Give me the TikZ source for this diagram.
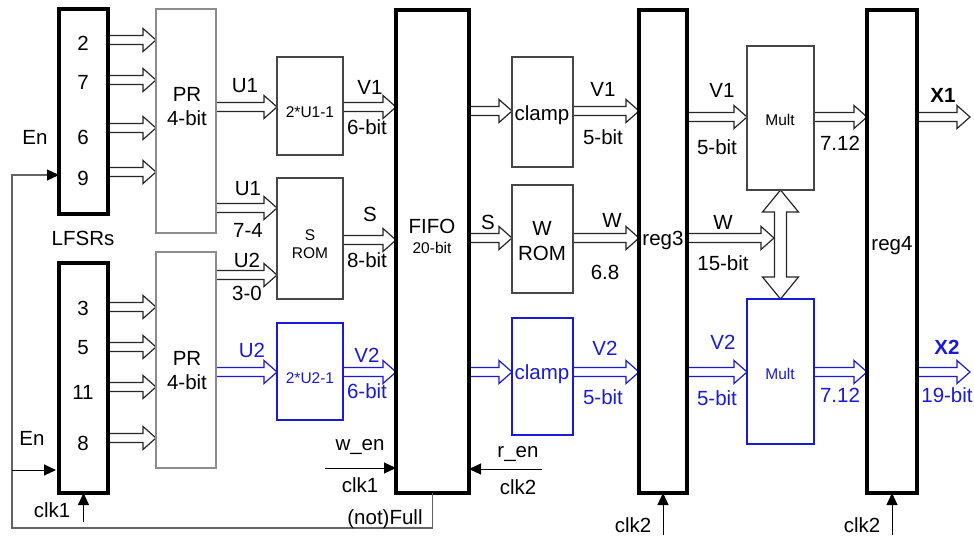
\documentclass[tikz,border=0pt]{standalone}
\usepackage{fontspec}
\setmainfont{Liberation Sans}
\usetikzlibrary{calc,arrows.meta}
\pgfdeclarelayer{bg}
\pgfsetlayers{bg,main}
\definecolor{blu}{RGB}{25,25,215}
\definecolor{prgray}{RGB}{140,140,140}
\definecolor{boxgray}{RGB}{70,70,70}
\definecolor{fbgray}{RGB}{100,100,100}
\begin{document}
\begin{tikzpicture}[x=1pt,y=-1pt,
 thickbox/.style={draw=black,line width=3.8pt,inner sep=0,outer sep=0},
 prbox/.style={draw=prgray,line width=1.1pt,inner sep=0,outer sep=0},
 fbox/.style={draw=boxgray,line width=1.1pt,inner sep=0,outer sep=0},
 bfbox/.style={draw=blu,line width=1.1pt,inner sep=0,outer sep=0},
 lbl/.style={inner sep=0,font=\fontsize{20.5}{24}\selectfont,text height=14.7pt,text depth=0pt},
 slbl/.style={inner sep=0,font=\fontsize{15.5}{18}\selectfont,text height=11.1pt,text depth=0pt},
 blbl/.style={inner sep=0,font=\fontsize{20.5}{24}\selectfont\bfseries,text height=14.7pt,text depth=0pt},
 barrow/.style={draw=black!85,line width=1.2pt,fill=white,to path={let \p1=(\tikztostart),\p2=(\tikztotarget) in (\x1,\y1+4.5pt) -- (\x2-13pt,\y1+4.5pt) -- (\x2-13pt,\y1+11.5pt) -- (\x2,\y1) -- (\x2-13pt,\y1-11.5pt) -- (\x2-13pt,\y1-4.5pt) -- (\x1,\y1-4.5pt) -- cycle}},
 bbarrow/.style={barrow,draw=blu},
 vbarrow/.style={draw=black!85,line width=1.2pt,fill=white,to path={let \p1=(\tikztostart),\p2=(\tikztotarget) in (\x1,\y1) -- (\x1-18pt,\y1-22pt) -- (\x1-6pt,\y1-22pt) -- (\x1-6pt,\y2+22pt) -- (\x1-18pt,\y2+22pt) -- (\x1,\y2) -- (\x1+18pt,\y2+22pt) -- (\x1+6pt,\y2+22pt) -- (\x1+6pt,\y1-22pt) -- (\x1+18pt,\y1-22pt) -- cycle}},
 sig/.style={draw=black,line width=1pt,-{Triangle[length=12pt,width=11pt]}},
 fb/.style={draw=fbgray,line width=1.3pt,-{Triangle[length=12pt,width=11pt,color=black]}}
]
\useasboundingbox (0,0) rectangle (974,540);
% level coordinates
\foreach \v in {40,80,128,172,175,307,347,387,438,107,208,275,240,372,111,238,117}
  \coordinate (L\v) at (0,\v);
% boxes
\node[thickbox,minimum width=49,minimum height=205] (lfsr1) at (83.5,111.5) {};
\node[thickbox,minimum width=49,minimum height=230] (lfsr2) at (83.5,378) {};
\node[prbox,minimum width=60,minimum height=224] (pr1) at (186,121) {};
\node[prbox,minimum width=60,minimum height=216] (pr2) at (186,360) {};
\node[fbox,minimum width=66,minimum height=98] (u1b) at (310,106) {};
\node[fbox,minimum width=66,minimum height=121] (srom) at (310,238.5) {};
\node[bfbox,minimum width=66,minimum height=97] (u2b) at (310,371.5) {};
\node[thickbox,minimum width=73,minimum height=483] (fifo) at (432.5,251.5) {};
\node[fbox,minimum width=61,minimum height=110] (clamp1) at (542.5,112) {};
\node[fbox,minimum width=61,minimum height=108] (wrom) at (542.5,239) {};
\node[bfbox,minimum width=61,minimum height=117] (clamp2) at (542.5,376.5) {};
\node[thickbox,minimum width=48,minimum height=483] (reg3) at (663,251.5) {};
\node[fbox,minimum width=67,minimum height=144] (mult1) at (780.5,118) {};
\node[bfbox,minimum width=67,minimum height=145] (mult2) at (780.5,371.5) {};
\node[thickbox,minimum width=50,minimum height=483] (reg4) at (892,251.5) {};
% free ends
\coordinate (wtip) at (774,238);
\coordinate (x1end) at (970,117);
\coordinate (x2end) at (970,372);
% block arrows
\begin{pgfonlayer}{bg}
\foreach \v in {40,80,128,172} \draw[barrow] (lfsr1.east |- L\v) to (pr1.west |- L\v);
\foreach \v in {307,347,387,438} \draw[barrow] (lfsr2.east |- L\v) to (pr2.west |- L\v);
\draw[barrow] (pr1.east |- L107) to (u1b.west |- L107);
\draw[barrow] (u1b.east |- L107) to (fifo.west |- L107);
\draw[barrow] (pr1.east |- L208) to (srom.west |- L208);
\draw[barrow] (pr2.east |- L275) to (srom.west |- L275);
\draw[barrow] (srom.east |- L240) to (fifo.west |- L240);
\draw[bbarrow] (pr2.east |- L372) to (u2b.west |- L372);
\draw[bbarrow] (u2b.east |- L372) to (fifo.west |- L372);
\draw[barrow] (fifo.east |- L111) to (clamp1.west |- L111);
\draw[barrow] (clamp1.east |- L111) to (reg3.west |- L111);
\draw[barrow] (fifo.east |- L238) to (wrom.west |- L238);
\draw[barrow] (wrom.east |- L238) to (reg3.west |- L238);
\draw[bbarrow] (fifo.east |- L372) to (clamp2.west |- L372);
\draw[bbarrow] (clamp2.east |- L372) to (reg3.west |- L372);
\draw[barrow] (reg3.east |- L117) to (mult1.west |- L117);
\draw[barrow] (mult1.east |- L117) to (reg4.west |- L117);
\draw[barrow] (reg4.east |- L117) to (x1end);
\draw[vbarrow] (mult1.south) to (mult2.north);
\draw[barrow] (reg3.east |- L238) to (wtip);
\draw[bbarrow] (reg3.east |- L372) to (mult2.west |- L372);
\draw[bbarrow] (mult2.east |- L372) to (reg4.west |- L372);
\draw[bbarrow] (reg4.east |- L372) to (x2end);
\end{pgfonlayer}
% control lines
\coordinate (fbc) at (12,528);
\draw[fb] (fifo.south) |- (fbc) |- (lfsr1.west |- L175);
\coordinate (en2s) at (12,470);
\draw[sig,shorten >=3pt] (en2s) -- (lfsr2.west |- en2s);
\coordinate (ck1) at (83.5,522);
\draw[sig] (ck1) -- (lfsr2.south);
\coordinate (ck3) at (663,535);
\draw[sig] (ck3) -- (reg3.south);
\coordinate (ck4) at (892,535);
\draw[sig] (ck4) -- (reg4.south);
\coordinate (wen) at (325,468);
\draw[sig] (wen) -- (fifo.west |- wen);
\coordinate (ren) at (542,469);
\draw[sig] (ren) -- (fifo.east |- ren);
% labels: LFSRs
\node[lbl] (t2) at (83,43) {2};
\node[lbl] (t7) at (83,82) {7};
\node[lbl] (t6) at (83,137) {6};
\node[lbl] (t9) at (83,178) {9};
\node[lbl] (t3) at (83,308) {3};
\node[lbl] (t5) at (83,347) {5};
\node[lbl] (t11) at (83,392) {11};
\node[lbl] (t8) at (83,443) {8};
\node[lbl] (en1) at (35,137) {En};
\node[lbl] (en2) at (32,438) {En};
\node[lbl] (lfsrs) at (83,238) {LFSRs};
\node[lbl] (clk1a) at (52,510) {clk1};
% PR
\node[lbl] (pr1a) at (187,94) {PR};
\node[lbl] (pr1b) at (187,118) {4-bit};
\node[lbl] (pr2a) at (187,358) {PR};
\node[lbl] (pr2b) at (187,382) {4-bit};
% stage 2
\node[lbl] (lu1) at (245,85) {U1};
\node[slbl] (tu1b) at (310,112) {2*U1-1};
\node[lbl] (lv1a) at (370,87) {V1};
\node[lbl] (lv1b) at (367,127) {6-bit};
\node[lbl] (lu1s) at (248,188) {U1};
\node[lbl] (l74) at (248,230) {7-4};
\node[slbl] (ts1) at (310,235) {S};
\node[slbl] (ts2) at (310,253) {ROM};
\node[lbl] (lsa) at (370,214) {S};
\node[lbl] (lsb) at (367,260) {8-bit};
\node[lbl] (lu2s) at (247,260) {U2};
\node[lbl] (l30) at (247,293) {3-0};
\node[lbl,text=blu] (lu2) at (252,350) {U2};
\node[slbl,text=blu] (tu2b) at (310,378) {2*U2-1};
\node[lbl,text=blu] (lv2a) at (367,355) {V2};
\node[lbl,text=blu] (lv2b) at (367,391) {6-bit};
% FIFO
\node[lbl] (tfifo) at (432,226) {FIFO};
\node[slbl] (tfifob) at (432,248) {20-bit};
\node[lbl] (lwen) at (360,443) {w\_en};
\node[lbl] (lclk1) at (360,485) {clk1};
\node[lbl] (lfull) at (385,517) {(not)Full};
% stage 3
\node[lbl] (tclamp1) at (542,113) {clamp};
\node[lbl] (lv1c) at (603,89) {V1};
\node[lbl] (lv1d) at (603,137) {5-bit};
\node[lbl] (lsc) at (488,222) {S};
\node[lbl] (tw1) at (542,228) {W};
\node[lbl] (tw2) at (542,253) {ROM};
\node[lbl] (lwa) at (612,220) {W};
\node[lbl] (lwb) at (605,272) {6.8};
\node[lbl,text=blu] (tclamp2) at (542,372) {clamp};
\node[lbl,text=blu] (lv2c) at (605,348) {V2};
\node[lbl,text=blu] (lv2d) at (603,397) {5-bit};
\node[lbl] (lren) at (518,450) {r\_en};
\node[lbl] (lclk2a) at (518,487) {clk2};
\node[lbl] (treg3) at (663,238) {reg3};
\node[lbl] (lclk2b) at (633,525) {clk2};
% stage 4
\node[lbl] (lv1e) at (722,90) {V1};
\node[lbl] (lv1f) at (717,147) {5-bit};
\node[slbl] (tmult1) at (780,120) {Mult};
\node[lbl] (l712a) at (840,143) {7.12};
\node[lbl] (lwc) at (723,222) {W};
\node[lbl] (lwd) at (723,263) {15-bit};
\node[lbl,text=blu] (lv2e) at (723,342) {V2};
\node[lbl,text=blu] (lv2f) at (717,398) {5-bit};
\node[slbl,text=blu] (tmult2) at (780,374) {Mult};
\node[lbl,text=blu] (l712b) at (840,395) {7.12};
\node[lbl] (treg4) at (892,243) {reg4};
\node[lbl] (lclk2c) at (862,525) {clk2};
\node[blbl] (lx1) at (943,95) {X1};
\node[blbl,text=blu] (lx2) at (947,347) {X2};
\node[lbl,text=blu] (l19) at (947,395) {19-bit};
\end{tikzpicture}
\end{document}
